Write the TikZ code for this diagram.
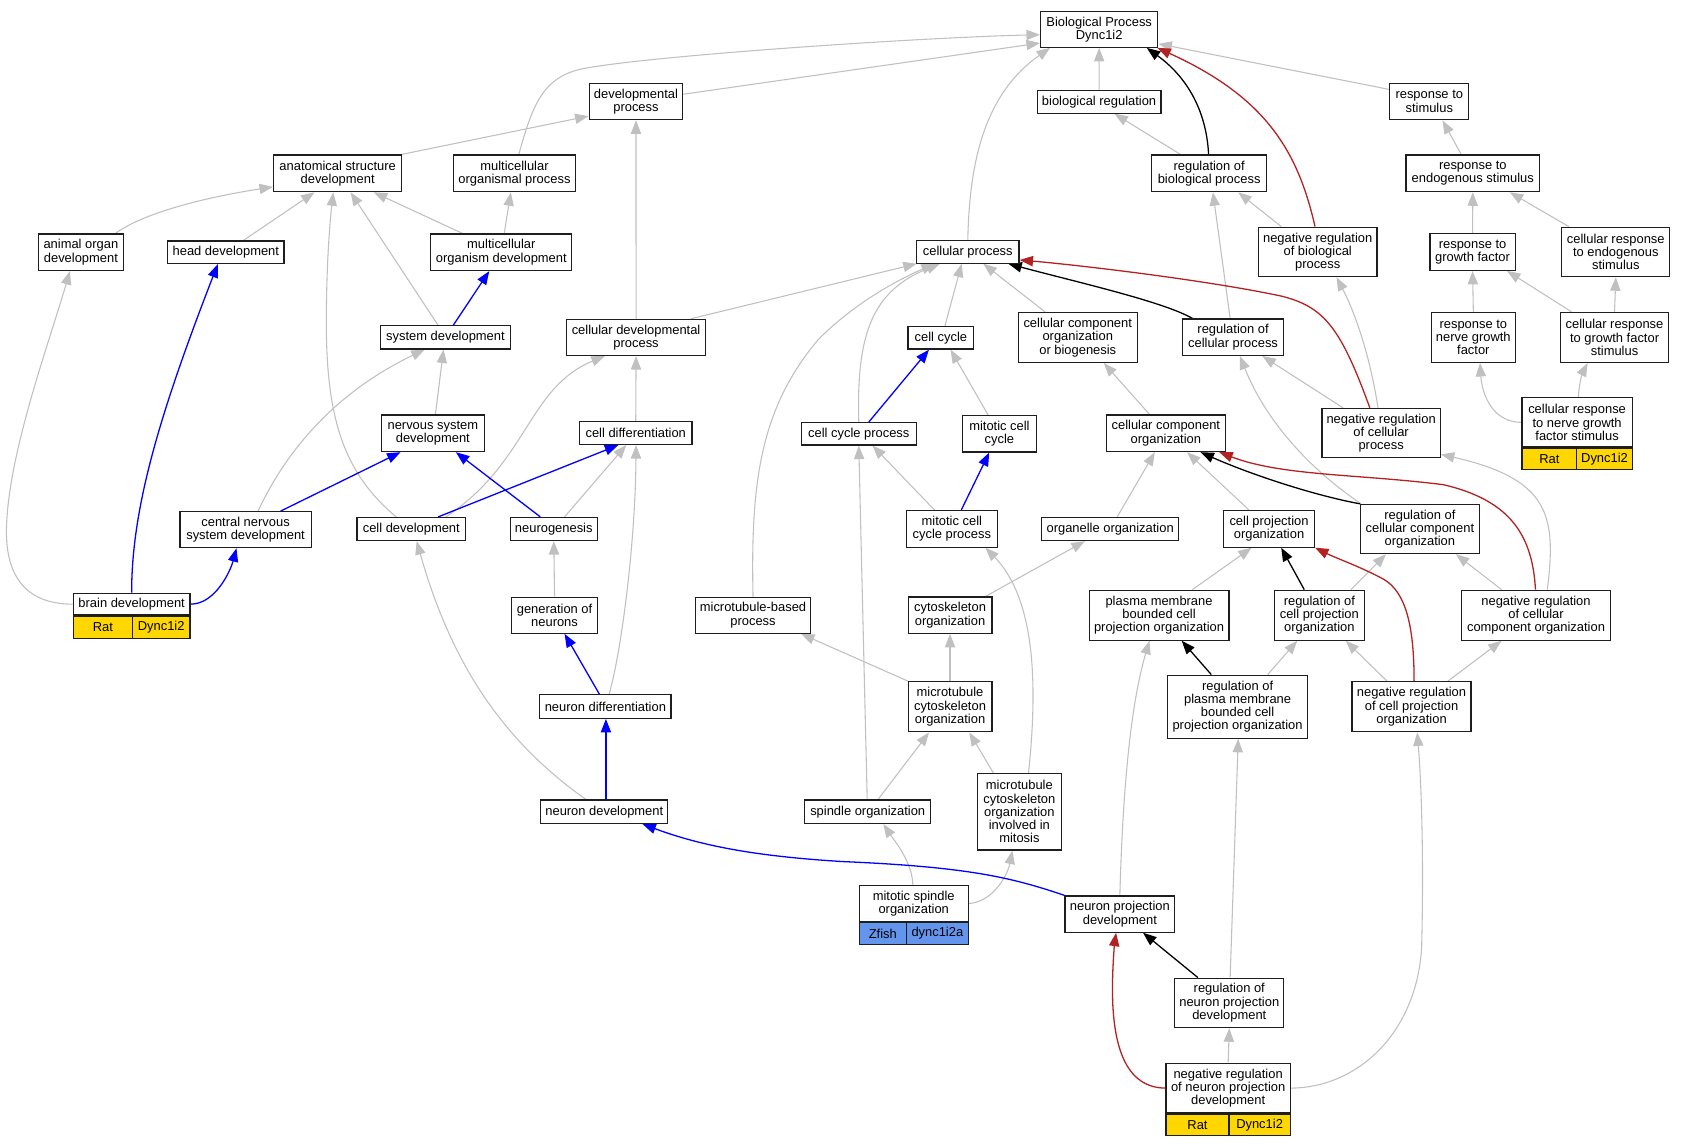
\documentclass[tikz,border=0pt]{standalone}
\usepackage{fontspec}
\usetikzlibrary{arrows.meta}
\newfontfamily\gvf{Liberation Sans}
\newcommand\gvfont{\gvf\fontsize{12pt}{12.3pt}\selectfont}
\definecolor{edgegray}{RGB}{192,192,192}
\definecolor{gvblue}{RGB}{0,0,255}
\definecolor{gvred}{RGB}{178,34,34}
\definecolor{gvgold}{RGB}{255,215,0}
\definecolor{gvcorn}{RGB}{100,149,237}
\definecolor{gvborder}{RGB}{30,30,30}
\pgfdeclarelayer{bg}
\pgfsetlayers{bg,main}
\tikzset{
  box/.style={draw=gvborder, line width=1.1pt, fill=white, inner sep=0pt, align=center, font=\gvfont},
  cell/.style={draw=gvborder, line width=1.1pt, inner sep=0pt, font=\gvfont},
  tip/.style={-{Triangle[length=12.5pt,width=9.5pt]}},
  ge/.style={tip, draw=edgegray, line width=1pt},
  bl/.style={tip, draw=gvblue, line width=1.2pt},
  bk/.style={tip, draw=black, line width=1.2pt},
  rd/.style={tip, draw=gvred, line width=1.2pt},
}
\begin{document}
\begin{tikzpicture}[x=1pt,y=-1pt]
\useasboundingbox (0,0) rectangle (1566.4,1065);
% nodes
\node[box, minimum width=109pt, minimum height=33pt] (BP) at (1020.6,27.4) {Biological Process\\Dync1i2};
\node[box, minimum width=87pt, minimum height=34pt] (devproc) at (590.5,94.2) {developmental\\process};
\node[box, minimum width=115pt, minimum height=21.3pt] (biolreg) at (1020.5,94.4) {biological regulation};
\node[box, minimum width=73.4pt, minimum height=34pt] (respstim) at (1327.1,94.2) {response to\\stimulus};
\node[box, minimum width=119pt, minimum height=34pt] (anat) at (313.5,161) {anatomical structure\\development};
\node[box, minimum width=114pt, minimum height=34pt] (mop) at (477.7,161) {multicellular\\organismal process};
\node[box, minimum width=107pt, minimum height=34pt] (regbp) at (1122.7,161) {regulation of\\biological process};
\node[box, minimum width=124pt, minimum height=34pt] (respendo) at (1367.5,161) {response to\\endogenous stimulus};
\node[box, minimum width=78.4pt, minimum height=34pt] (animalorgan) at (75.1,234.2) {animal organ\\development};
\node[box, minimum width=108pt, minimum height=21pt] (headdev) at (209.7,234.2) {head development};
\node[box, minimum width=131pt, minimum height=34pt] (mod) at (465.5,234.2) {multicellular\\organism development};
\node[box, minimum width=95pt, minimum height=21pt] (cellproc) at (898.6,233.8) {cellular process};
\node[box, minimum width=110pt, minimum height=46pt] (negregbp) at (1223.5,233.9) {negative regulation\\of biological\\process};
\node[box, minimum width=79pt, minimum height=34pt] (respgf) at (1367.3,234) {response to\\growth factor};
\node[box, minimum width=100.4pt, minimum height=46pt] (crendo) at (1500.3,233.9) {cellular response\\to endogenous\\stimulus};
\node[box, minimum width=121pt, minimum height=21.4pt] (sysdev) at (413.6,313.3) {system development};
\node[box, minimum width=129pt, minimum height=33.5pt] (celldevproc) at (590.6,313.3) {cellular developmental\\process};
\node[box, minimum width=61pt, minimum height=21pt] (cellcycle) at (873.6,313.6) {cell cycle};
\node[box, minimum width=110.3pt, minimum height=46.4pt] (ccorgbio) at (1000.7,313.3) {cellular component\\organization\\or biogenesis};
\node[box, minimum width=94.4pt, minimum height=33.8pt] (regcp) at (1144.9,313.1) {regulation of\\cellular process};
\node[box, minimum width=78.3pt, minimum height=46.4pt] (respngf) at (1368,313.3) {response to\\nerve growth\\factor};
\node[box, minimum width=100.8pt, minimum height=46.4pt] (crgf) at (1499.1,313.3) {cellular response\\to growth factor\\stimulus};
\node[box, minimum width=96pt, minimum height=34pt] (nsd) at (401.9,402.3) {nervous system\\development};
\node[box, minimum width=104.3pt, minimum height=21pt] (celldiff) at (590.3,402.2) {cell differentiation};
\node[box, minimum width=106.8pt, minimum height=20.8pt] (ccp) at (797.4,402.8) {cell cycle process};
\node[box, minimum width=68.4pt, minimum height=33.7pt] (mitcc) at (928,402.8) {mitotic cell\\cycle};
\node[box, minimum width=110.4pt, minimum height=34pt] (cco) at (1082.5,402.3) {cellular component\\organization};
\node[box, minimum width=109.8pt, minimum height=45.8pt] (negregcp) at (1282.4,402.1) {negative regulation\\of cellular\\process};
\node[box, minimum width=102.3pt, minimum height=45.6pt] (crngf) at (1464.35,392.2) {cellular response\\to nerve growth\\factor stimulus};
\node[cell, fill=gvgold, minimum width=50.9pt, minimum height=20.1pt, anchor=north west] (crngfsp) at (crngf.south west) {Rat};
\node[cell, fill=gvgold, minimum width=51.4pt, minimum height=20.1pt, anchor=north east] (crngfgn) at (crngf.south east) {Dync1i2};
\node[box, minimum width=121.7pt, minimum height=33.4pt] (csd) at (228,491.8) {central nervous\\system development};
\node[box, minimum width=100.8pt, minimum height=21.4pt] (celldev) at (381.9,491.2) {cell development};
\node[box, minimum width=81pt, minimum height=21.4pt] (neurogenesis) at (514.2,491.2) {neurogenesis};
\node[box, minimum width=84.4pt, minimum height=34pt] (mccp) at (883.8,491) {mitotic cell\\cycle process};
\node[box, minimum width=126.8pt, minimum height=21.4pt] (orgorg) at (1030.8,491.2) {organelle organization};
\node[box, minimum width=84.4pt, minimum height=34pt] (cpo) at (1178.3,491) {cell projection\\organization};
\node[box, minimum width=110pt, minimum height=45.7pt] (regcco) at (1318.4,491.2) {regulation of\\cellular component\\organization};
\node[box, minimum width=108.3pt, minimum height=20.1pt] (brain) at (122.25,560.95) {brain development};
\node[cell, fill=gvgold, minimum width=54.8pt, minimum height=20.8pt, anchor=north west] (brainsp) at (brain.south west) {Rat};
\node[cell, fill=gvgold, minimum width=53.5pt, minimum height=20.8pt, anchor=north east] (braingn) at (brain.south east) {Dync1i2};
\node[box, minimum width=79.4pt, minimum height=33.5pt] (genneurons) at (514.9,571.2) {generation of\\neurons};
\node[box, minimum width=107.3pt, minimum height=33.5pt] (mtbp) at (699.2,571.2) {microtubule-based\\process};
\node[box, minimum width=77.8pt, minimum height=33.6pt] (cytorg) at (882.1,571.2) {cytoskeleton\\organization};
\node[box, minimum width=129.8pt, minimum height=46.4pt] (pmbcpo) at (1076.2,571.2) {plasma membrane\\bounded cell\\projection organization};
\node[box, minimum width=83.8pt, minimum height=46.4pt] (regcpo) at (1225,571.2) {regulation of\\cell projection\\organization};
\node[box, minimum width=137.8pt, minimum height=46.4pt] (negregcco) at (1426.2,571.2) {negative regulation\\of cellular\\component organization};
\node[box, minimum width=121.8pt, minimum height=21.8pt] (neurdiff) at (562.1,656.1) {neuron differentiation};
\node[box, minimum width=77.8pt, minimum height=46.5pt] (mtco) at (882.1,656.3) {microtubule\\cytoskeleton\\organization};
\node[box, minimum width=129.8pt, minimum height=58.6pt] (regpmbcpo) at (1149.1,656.2) {regulation of\\plasma membrane\\bounded cell\\projection organization};
\node[box, minimum width=110.4pt, minimum height=46.5pt] (negregcpo) at (1310.6,656.3) {negative regulation\\of cell projection\\organization};
\node[box, minimum width=117.8pt, minimum height=21.7pt] (neurdev) at (561.1,753.7) {neuron development};
\node[box, minimum width=116.8pt, minimum height=21.7pt] (spindle) at (805.7,753.7) {spindle organization};
\node[box, minimum width=77.9pt, minimum height=70.8pt] (mtcoim) at (946.5,753.8) {microtubule\\cytoskeleton\\organization\\involved in\\mitosis};
\node[box, minimum width=101.4pt, minimum height=33.5pt] (mitspindle) at (848.4,838.85) {mitotic spindle\\organization};
\node[cell, fill=gvcorn, minimum width=43.9pt, minimum height=20.1pt, anchor=north west] (mitspindlesp) at (mitspindle.south west) {Zfish};
\node[cell, fill=gvcorn, minimum width=57.5pt, minimum height=20.1pt, anchor=north east] (mitspindlegn) at (mitspindle.south east) {dync1i2a};
\node[box, minimum width=101.8pt, minimum height=33.6pt] (npd) at (1039.8,848.7) {neuron projection\\development};
\node[box, minimum width=101.4pt, minimum height=46pt] (regnpd) at (1141.4,931.2) {regulation of\\neuron projection\\development};
\node[box, minimum width=115.3pt, minimum height=46.4pt] (negregnpd) at (1140.35,1010.3) {negative regulation\\of neuron projection\\development};
\node[cell, fill=gvgold, minimum width=58.4pt, minimum height=19.7pt, anchor=north west] (negregnpdsp) at (negregnpd.south west) {Rat};
\node[cell, fill=gvgold, minimum width=56.9pt, minimum height=19.7pt, anchor=north east] (negregnpdgn) at (negregnpd.south east) {Dync1i2};
% edges
\begin{pgfonlayer}{bg}
% gray
\draw[ge] ([yshift=6.7pt]devproc.east) -- ([yshift=-12.6pt]BP.west);
\draw[ge] ([xshift=4pt]mop.north) .. controls (495,95) and (505,72) .. (540,64) .. controls (600,52) and (850,35) .. ([yshift=-4.8pt]BP.west);
\draw[ge] ([xshift=-1pt]anat.north east) -- ([yshift=-13.6pt]devproc.west);
\draw[ge] (biolreg.north) -- (BP.south);
\draw[ge] ([yshift=11.2pt]respstim.west) -- ([yshift=-13.3pt]BP.east);
\draw[ge] ([xshift=-26.5pt]regbp.north) -- ([xshift=14.3pt]biolreg.south);
\draw[ge] ([xshift=-10.7pt]respendo.north) -- ([xshift=12.3pt]respstim.south);
\draw[ge] ([xshift=32.2pt]animalorgan.north) .. controls (130,200) and (180,185) .. ([yshift=-12.5pt]anat.west);
\draw[ge] ([xshift=16.4pt]headdev.north) -- ([xshift=-21.5pt]anat.south);
\draw[ge] ([xshift=-6.8pt]sysdev.north) -- ([xshift=12pt]anat.south);
\draw[ge] ([xshift=-36.2pt]mod.north) -- ([xshift=33.5pt]anat.south);
\draw[ge] ([xshift=-14pt]celldev.north) .. controls (320,440) and (303,390) .. (303,300) .. controls (303,240) and (307,200) .. ([xshift=-4pt]anat.south);
\draw[ge] ([xshift=2.7pt]mod.north) -- ([xshift=-3.4pt]mop.south);
\draw[ge] (celldevproc.north) -- (devproc.south);
\draw[ge] (brain.west) .. controls (20,561) and (5,530) .. (6,490) .. controls (8,420) and (45,320) .. ([xshift=-10.2pt]animalorgan.south);
\draw[ge] ([xshift=11.6pt]csd.north) .. controls (265,420) and (310,365) .. ([xshift=-19.2pt]sysdev.south);
\draw[ge] ([xshift=2.4pt]nsd.north) -- ([xshift=-1.8pt]sysdev.south);
\draw[ge] ([xshift=32pt]celldev.north) .. controls (490,430) and (490,360) .. ([xshift=-29pt]celldevproc.south);
\draw[ge] ([xshift=10pt]neurogenesis.north) -- ([xshift=-8.8pt]celldiff.south);
\draw[ge] (celldiff.north) -- (celldevproc.south);
\draw[ge] ([xshift=3.5pt]neurdiff.north) .. controls (578,600) and (590,500) .. ([xshift=0.3pt]celldiff.south);
\draw[ge] (genneurons.north) -- (neurogenesis.south);
\draw[ge] ([xshift=-17pt]neurdev.north) .. controls (470,690) and (420,620) .. ([xshift=5pt]celldev.south);
\draw[ge] (cellproc.north) .. controls (900,160) and (910,90) .. ([xshift=-45.6pt]BP.south);
\draw[ge] ([xshift=50.9pt]celldevproc.north) -- ([xshift=-47.4pt]cellproc.south);
\draw[ge] (mtbp.north) .. controls (697,450) and (705,380) .. (760,315) .. controls (800,275) and (845,255) .. ([xshift=-30.6pt]cellproc.south);
\draw[ge] (ccp.north) .. controls (795,310) and (810,270) .. ([xshift=-25.8pt]cellproc.south);
\draw[ge] ([xshift=3.8pt]cellcycle.north) -- ([xshift=-5.7pt]cellproc.south);
\draw[ge] ([xshift=-30.4pt]ccorgbio.north) -- ([xshift=14.4pt]cellproc.south);
\draw[ge] ([xshift=-10.5pt]mitcc.north) -- ([xshift=9pt]cellcycle.south);
\draw[ge] ([xshift=-16.2pt]mccp.north) -- ([xshift=12.8pt]ccp.south);
\draw[ge] ([xshift=-15.2pt]cco.north) -- ([xshift=24.2pt]ccorgbio.south);
\draw[ge] ([xshift=-2.7pt]regcp.north) -- ([xshift=3.5pt]regbp.south);
\draw[ge] ([xshift=-33.9pt]negregbp.north) -- ([xshift=27pt]regbp.south);
\draw[ge] ([xshift=-2.9pt]negregcp.north) .. controls (1272,330) and (1258,290) .. ([xshift=17.5pt]negregbp.south);
\draw[ge] ([xshift=-35.4pt]negregcp.north) -- ([xshift=27.2pt]regcp.south);
\draw[ge] ([xshift=1pt]regcco.north west) .. controls (1215,435) and (1175,390) .. ([xshift=6.3pt]regcp.south);
\draw[ge] ([xshift=10.5pt]negregcco.north) .. controls (1445,480) and (1440,445) .. ([yshift=-19.8pt]negregcp.east);
\draw[ge] ([xshift=-32pt]negregcco.north) -- ([xshift=33.4pt]regcco.south);
\draw[ge] ([xshift=-18.7pt]cpo.north) -- ([xshift=19.7pt]cco.south);
\draw[ge] ([xshift=6.5pt]orgorg.north) -- ([xshift=-10.2pt]cco.south);
\draw[ge] ([xshift=32.9pt]cytorg.north) -- ([xshift=-23.5pt]orgorg.south);
\draw[ge] ([xshift=8.5pt]mtcoim.north) .. controls (962,650) and (965,560) .. ([xshift=31.2pt]mccp.south);
\draw[ge] (mtco.north) -- (cytorg.south);
\draw[ge] ([xshift=0.5pt]mtco.north west) -- ([xshift=44.6pt]mtbp.south);
\draw[ge] ([xshift=-0.5pt]spindle.north) -- (ccp.south);
\draw[ge] ([xshift=9.6pt]spindle.north) -- ([xshift=-19.5pt]mtco.south);
\draw[ge] ([xshift=-24pt]mtcoim.north) -- ([xshift=17.9pt]mtco.south);
\draw[ge] ([xshift=-0.8pt]mitspindle.north) .. controls (847,800) and (830,780) .. ([xshift=14.5pt]spindle.south);
\draw[ge] (mitspindle.east) .. controls (920,838) and (935,815) .. ([xshift=-6.5pt]mtcoim.south);
\draw[ge] (npd.north) .. controls (1042,750) and (1048,660) .. ([xshift=-8.9pt]pmbcpo.south);
\draw[ge] ([xshift=28pt]regpmbcpo.north) -- ([xshift=-20.5pt]regcpo.south);
\draw[ge] ([xshift=-22.7pt]negregcpo.north) -- ([xshift=24.5pt]regcpo.south);
\draw[ge] ([xshift=33.7pt]negregcpo.north) -- ([xshift=-32pt]negregcco.south);
\draw[ge] ([xshift=31pt]pmbcpo.north) -- ([xshift=-16.2pt]cpo.south);
\draw[ge] ([xshift=29.5pt]regcpo.north) -- ([xshift=-31.5pt]regcco.south);
\draw[ge] ([xshift=0.8pt]regnpd.north) -- ([xshift=0.6pt]regpmbcpo.south);
\draw[ge] (negregnpd.north) -- (regnpd.south);
\draw[ge] (negregnpd.east) .. controls (1260,1010) and (1315,960) .. (1320,880) .. controls (1322,800) and (1320,730) .. ([xshift=5.3pt]negregcpo.south);
\draw[ge] (respgf.north) -- (respendo.south);
\draw[ge] ([xshift=-43.7pt]crendo.north) -- ([xshift=34.3pt]respendo.south);
\draw[ge] (respngf.north) -- (respgf.south);
\draw[ge] ([xshift=-39.9pt]crgf.north) -- ([xshift=32pt]respgf.south);
\draw[ge] (crgf.north) -- (crendo.south);
\draw[ge] (crngf.west) .. controls (1385,392) and (1376,365) .. ([xshift=6.2pt]respngf.south);
\draw[ge] ([xshift=1.2pt]crngf.north) .. controls (1466,355) and (1470,345) .. ([xshift=-25pt]crgf.south);
% blue
\draw[bl] (brain.north) .. controls (122,470) and (150,380) .. ([xshift=-7.5pt]headdev.south);
\draw[bl] (brain.east) .. controls (200,561) and (214,530) .. ([xshift=-8.4pt]csd.south);
\draw[bl] ([xshift=32.6pt]csd.north) -- ([xshift=-30pt]nsd.south);
\draw[bl] ([xshift=7.2pt]sysdev.north) -- ([xshift=-11.2pt]mod.south);
\draw[bl] ([xshift=-12.5pt]neurogenesis.north) -- ([xshift=21.4pt]nsd.south);
\draw[bl] ([xshift=24.9pt]celldev.north) -- ([xshift=-16.2pt]celldiff.south);
\draw[bl] ([xshift=-5.5pt]neurdiff.north) -- ([xshift=9.3pt]genneurons.south);
\draw[bl] ([xshift=1.5pt]neurdev.north) -- ([xshift=0.5pt]neurdiff.south);
\draw[bl] (npd.north west) .. controls (940,815) and (900,805) .. (783,800) .. controls (700,795) and (650,785) .. ([xshift=35.4pt]neurdev.south);
\draw[bl] ([xshift=9.3pt]ccp.north) -- ([xshift=-11pt]cellcycle.south);
\draw[bl] ([xshift=8.8pt]mccp.north) -- ([xshift=-9.5pt]mitcc.south);
% black
\draw[bk] ([xshift=-0.5pt]regbp.north) .. controls (1120,100) and (1100,70) .. ([xshift=44.2pt]BP.south);
\draw[bk] ([xshift=-37.7pt]regcp.north) .. controls (1080,280) and (1000,262) .. ([xshift=37.6pt]cellproc.south);
\draw[bk] (regcco.north west) .. controls (1220,460) and (1160,440) .. ([xshift=32.2pt]cco.south);
\draw[bk] ([xshift=-14pt]regcpo.north) -- ([xshift=11.3pt]cpo.south);
\draw[bk] ([xshift=-24.4pt]regpmbcpo.north) -- ([xshift=21pt]pmbcpo.south);
\draw[bk] ([xshift=-29.2pt]regnpd.north) -- ([xshift=21.5pt]npd.south);
% red
\draw[rd] ([xshift=-2.5pt]negregbp.north) .. controls (1205,140) and (1175,90) .. ([xshift=54pt]BP.south);
\draw[rd] ([xshift=-10.5pt]negregcp.north) .. controls (1245,305) and (1230,285) .. (1190,275) .. controls (1120,260) and (1000,246) .. ([yshift=-7.6pt]cellproc.east);
\draw[rd] ([xshift=-0.5pt]negregcco.north) .. controls (1423,500) and (1405,465) .. (1340,450) .. controls (1260,440) and (1190,442) .. ([xshift=49.6pt]cco.south);
\draw[rd] ([xshift=2.4pt]negregcpo.north) .. controls (1313,580) and (1305,550) .. (1285,538) .. controls (1265,527) and (1240,518) .. (cpo.south east);
\draw[rd] (negregnpd.west) .. controls (1040,1010) and (1032,960) .. (1033,910) .. controls (1033.5,890) and (1035,875) .. ([xshift=-3.5pt]npd.south);
\end{pgfonlayer}
\end{tikzpicture}
\end{document}
